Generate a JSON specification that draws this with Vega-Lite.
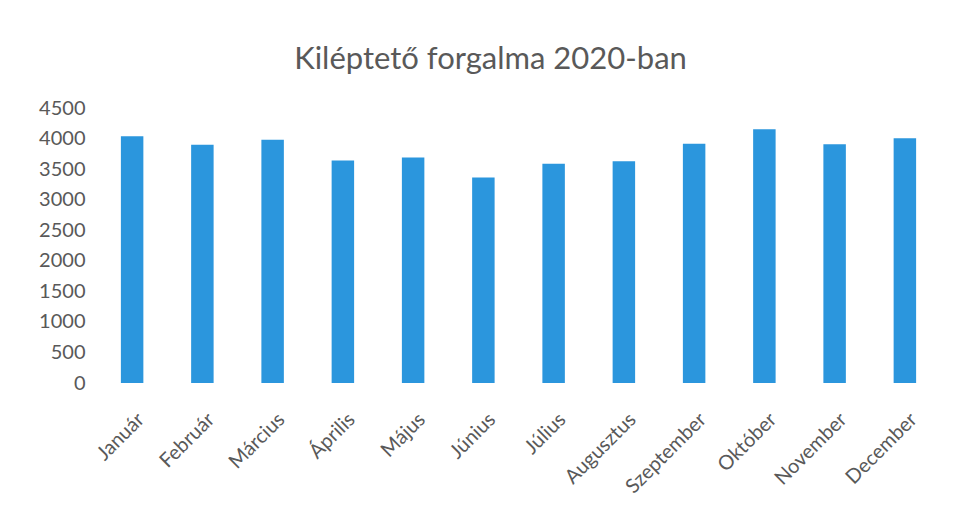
{
  "$schema": "https://vega.github.io/schema/vega-lite/v6.json",
  "width": 843,
  "height": 275,
  "autosize": "none",
  "padding": {"left": 97, "top": 108, "right": 15, "bottom": 123},
  "background": "white",
  "title": {
    "text": "Kiléptető forgalma 2020-ban",
    "font": "Lato",
    "fontSize": 31,
    "fontWeight": "normal",
    "color": "#595959",
    "anchor": "middle",
    "dx": -28,
    "offset": 22
  },
  "data": {
    "values": [
      {"honap": "Január", "forgalom": 4036},
      {"honap": "Február", "forgalom": 3897},
      {"honap": "Március", "forgalom": 3982},
      {"honap": "Április", "forgalom": 3639},
      {"honap": "Május", "forgalom": 3692},
      {"honap": "Június", "forgalom": 3364},
      {"honap": "Július", "forgalom": 3587},
      {"honap": "Augusztus", "forgalom": 3629},
      {"honap": "Szeptember", "forgalom": 3913},
      {"honap": "Október", "forgalom": 4152},
      {"honap": "November", "forgalom": 3908},
      {"honap": "December", "forgalom": 4003}
    ]
  },
  "mark": {"type": "bar", "color": "#2B96DD"},
  "encoding": {
    "x": {
      "field": "honap",
      "type": "nominal",
      "sort": null,
      "scale": {"paddingInner": 0.68, "paddingOuter": 0.34},
      "axis": {
        "title": null,
        "labelAngle": -45,
        "labelFont": "Lato",
        "labelFontSize": 20,
        "labelColor": "#595959",
        "labelPadding": 26,
        "labelOffset": 2,
        "ticks": false,
        "domain": false
      }
    },
    "y": {
      "field": "forgalom",
      "type": "quantitative",
      "scale": {"domain": [0, 4500], "nice": false},
      "axis": {
        "title": null,
        "values": [0, 500, 1000, 1500, 2000, 2500, 3000, 3500, 4000, 4500],
        "format": "d",
        "labelFont": "Lato",
        "labelFontSize": 20,
        "labelColor": "#595959",
        "labelPadding": 12,
        "ticks": false,
        "domain": false,
        "grid": false
      }
    }
  },
  "config": {"view": {"stroke": null}}
}
